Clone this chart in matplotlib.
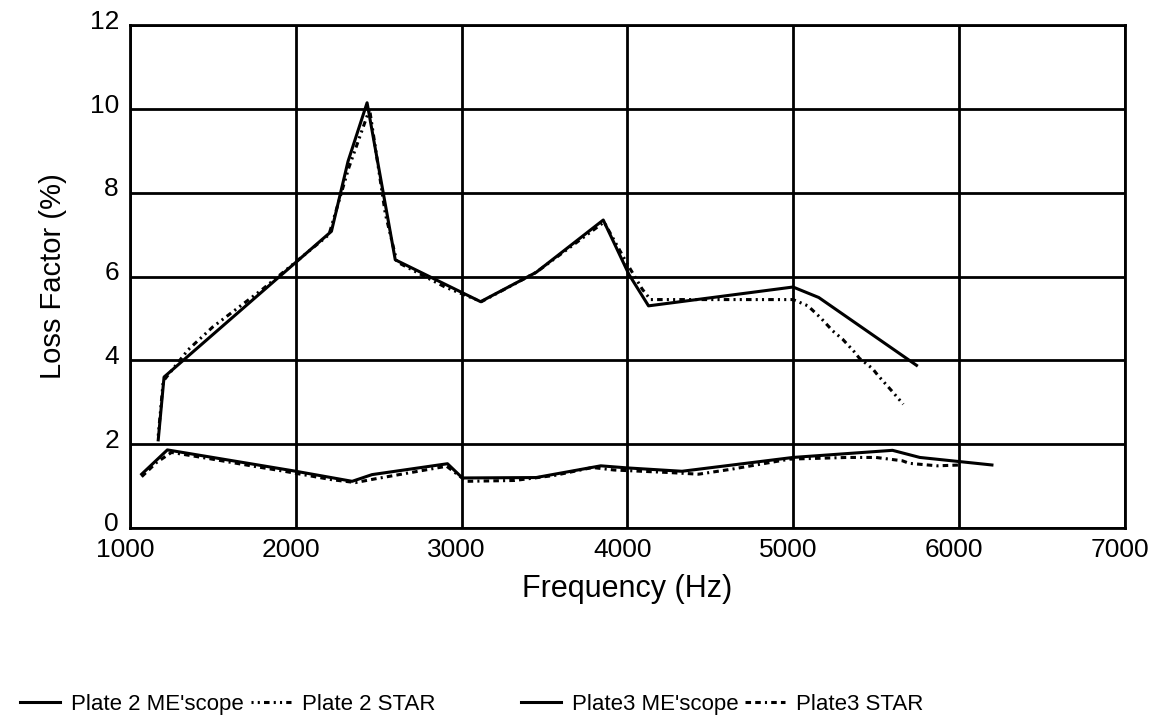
import matplotlib.pyplot as plt
import matplotlib
from matplotlib.lines import Line2D
from matplotlib.transforms import ScaledTranslation

matplotlib.rcParams['font.family'] = ['Liberation Sans', 'DejaVu Sans']
matplotlib.rcParams['lines.scale_dashes'] = False

# Plate 2 ME'scope (solid, upper)
p2_me_freq = [1170, 1205, 2215, 2315, 2430, 2600, 3115, 3450, 3855, 4010, 4128, 5000, 5155, 5745]
p2_me_loss = [2.1, 3.6, 7.08, 8.75, 10.15, 6.4, 5.4, 6.1, 7.35, 6.05, 5.3, 5.75, 5.5, 3.88]

# Plate 2 STAR (dotted, upper)
p2_star_freq = [1170, 1200, 1350, 1500, 1800, 2200, 2320, 2445, 2540, 2610, 2900, 3120, 3450,
                3860, 4000, 4090, 4140, 4400, 4700, 5000, 5090, 5170, 5240, 5300, 5370, 5400,
                5480, 5510, 5600, 5665]
p2_star_loss = [2.2, 3.5, 4.25, 4.8, 5.7, 7.0, 8.6, 10.0, 7.5, 6.35, 5.75, 5.4, 6.1,
                7.3, 6.3, 5.7, 5.45, 5.45, 5.45, 5.45, 5.3, 5.0, 4.7, 4.5, 4.2, 4.05,
                3.8, 3.65, 3.25, 2.95]

# Plate3 ME'scope (solid, lower)
p3_me_freq = [1070, 1225, 2000, 2340, 2460, 2915, 3005, 3450, 3840, 4000, 4330, 5000, 5600, 5765, 6200]
p3_me_loss = [1.28, 1.86, 1.35, 1.11, 1.27, 1.53, 1.19, 1.2, 1.48, 1.43, 1.35, 1.68, 1.85, 1.68, 1.5]

# Plate3 STAR (dashed, lower)
p3_star_freq = [1070, 1160, 1250, 1480, 1745, 1930, 2215, 2360, 2480, 2910, 3030, 3320, 3560,
                3790, 3920, 4250, 4430, 4630, 4980, 5330, 5500, 5660, 5700, 5870, 6010]
p3_star_loss = [1.22, 1.56, 1.8, 1.65, 1.47, 1.35, 1.15, 1.08, 1.17, 1.47, 1.11, 1.13, 1.25,
                1.44, 1.38, 1.32, 1.28, 1.4, 1.64, 1.68, 1.68, 1.6, 1.54, 1.48, 1.5]

x_ticks = [1000, 2000, 3000, 4000, 5000, 6000, 7000]
y_ticks = [0, 2, 4, 6, 8, 10, 12]

star2_style = (0, (1.5, 3, 1.5, 3, 4, 3))
star3_style = (0, (4, 3, 4, 3, 1.5, 3))

fig = plt.figure(figsize=(11.51, 7.23), dpi=100)
ax = fig.add_axes([0.113, 0.270, 0.864, 0.695])

ax.plot(p2_star_freq, p2_star_loss, color='black', lw=2.2, linestyle=star2_style)
ax.plot(p3_star_freq, p3_star_loss, color='black', lw=2.2, linestyle=star3_style)
ax.plot(p2_me_freq, p2_me_loss, color='black', lw=2.2)
ax.plot(p3_me_freq, p3_me_loss, color='black', lw=2.2)

ax.set_xlim(1000, 7000)
ax.set_ylim(0, 12)
ax.set_xticks(x_ticks)
ax.set_yticks(y_ticks)
ax.grid(True, color='black', lw=2)
ax.set_axisbelow(True)
for s in ax.spines.values():
    s.set_linewidth(2)
ax.tick_params(length=0, labelsize=19)
ax.tick_params(axis='y', pad=8)
ax.tick_params(axis='x', pad=7)

# Excel-like label offsets
for lab in ax.get_yticklabels():
    lab.set_transform(lab.get_transform() + ScaledTranslation(0, 0.06, fig.dpi_scale_trans))
for lab in ax.get_xticklabels():
    lab.set_transform(lab.get_transform() + ScaledTranslation(-0.05, 0, fig.dpi_scale_trans))

ax.set_xlabel("Frequency (Hz)", fontsize=22, labelpad=9)
ax.set_ylabel("Loss Factor (%)", fontsize=21, labelpad=16)

leg_font = {'family': ['Liberation Sans Narrow', 'Liberation Sans'], 'size': 16}
h1 = [Line2D([], [], color='black', lw=2.2), Line2D([], [], color='black', lw=2.2, linestyle=star2_style)]
h2 = [Line2D([], [], color='black', lw=2.2), Line2D([], [], color='black', lw=2.2, linestyle=star3_style)]
fig.legend(h1, ["Plate 2 ME'scope", "Plate 2 STAR"], loc='lower left', bbox_to_anchor=(0.0, -0.016),
           ncol=2, frameon=False, prop=leg_font, handlelength=1.8, handletextpad=0.5, columnspacing=0.3)
fig.legend(h2, ["Plate3 ME'scope", "Plate3 STAR"], loc='lower left', bbox_to_anchor=(0.435, -0.016),
           ncol=2, frameon=False, prop=leg_font, handlelength=1.8, handletextpad=0.5, columnspacing=0.3)

plt.savefig("out.png")
